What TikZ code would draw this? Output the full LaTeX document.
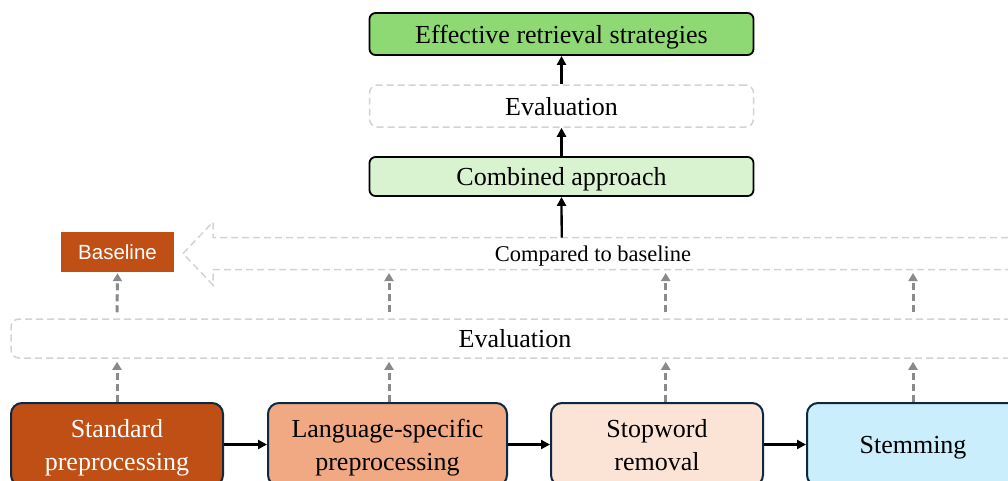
\documentclass[tikz,border=0pt]{standalone}
\usepackage{fontspec}
\setmainfont{Liberation Serif}
\newfontfamily\basefont{Liberation Sans}
\usetikzlibrary{arrows.meta}
\definecolor{navy}{HTML}{0E2841}
\definecolor{effgreen}{HTML}{8ED973}
\definecolor{combgreen}{HTML}{D9F2D0}
\definecolor{rust}{HTML}{C04F15}
\definecolor{salmon}{HTML}{F1A983}
\definecolor{peach}{HTML}{FBE3D6}
\definecolor{skyb}{HTML}{CAEEFB}
\definecolor{lgray}{HTML}{D3D3D3}
\definecolor{mgray}{HTML}{8A8A8A}
\tikzset{
  topbox/.style={draw=black, line width=1.8pt, rounded corners=6pt, minimum width=384pt, inner sep=0pt, text depth=0pt, font=\fontsize{26}{30}\selectfont},
  evalbox/.style={draw=lgray, line width=1.5pt, dash pattern=on 7pt off 4pt, rounded corners=8pt, inner sep=0pt, text depth=0pt, font=\fontsize{26}{30}\selectfont},
  stepbox/.style={draw=navy, line width=2pt, rounded corners=11pt, minimum height=83pt, inner sep=0pt, text depth=0pt, align=center, font=\fontsize{26}{33}\selectfont},
  blackarrow/.style={draw=black, line width=2.3pt, -{Triangle[length=9pt,width=9pt]}},
  grayarrow/.style={draw=mgray, line width=3pt, dash pattern=on 7pt off 4pt, -{Triangle[length=8pt,width=9pt]}},
}
\begin{document}
\begin{tikzpicture}[x=1pt,y=-1pt]
\useasboundingbox (0,0) rectangle (1008,480);
\clip (0,0) rectangle (1008,480);
% top column
\node[topbox, fill=effgreen, minimum height=42pt] (eff) at (561.5,34) {Effective retrieval strategies};
\node[evalbox, minimum width=384pt, minimum height=42pt] (evalT) at (561.5,106) {Evaluation};
\node[topbox, fill=combgreen, minimum height=39pt] (comb) at (561.5,176.5) {Combined approach};
% big left arrow
\draw[draw=lgray, line width=1.5pt, dash pattern=on 7pt off 4pt, line join=miter]
  (1030,237.5) -- (213,237.5) -- (213,222) -- (183,253.5) -- (213,285) -- (213,269.5) -- (1030,269.5);
\coordinate (cmpTop) at (561.7,237.5);
\coordinate (cmpBot) at (561.7,269.5);
\node[font=\fontsize{22.5}{26}\selectfont, inner sep=0pt, text depth=0pt] (cmp) at (593,254) {Compared to baseline};
% baseline
\node[fill=rust, text=white, minimum width=113pt, minimum height=40pt, inner sep=0pt, font=\basefont\fontsize{20.5}{24}\selectfont] (base) at (117.5,252) {Baseline};
% long evaluation
\node[evalbox, minimum width=1008pt, minimum height=39pt] (evalL) at (515,338.5) {Evaluation};
% bottom steps
\node[stepbox, fill=rust, text=white, minimum width=212pt] (b1) at (117,444.5) {Standard\\preprocessing};
\node[stepbox, fill=salmon, minimum width=239pt] (b2) at (387.5,444.5) {Language-specific\\preprocessing};
\node[stepbox, fill=peach, minimum width=212pt] (b3) at (657,444.5) {Stopword\\removal};
\node[stepbox, fill=skyb, minimum width=212pt] (b4) at (913,444.5) {Stemming};
% black arrows
\draw[blackarrow] (b1.east) -- (b2.west);
\draw[blackarrow] (b2.east) -- (b3.west);
\draw[blackarrow] (b3.east) -- (b4.west);
\draw[blackarrow] (cmpTop) -- (comb.south);
\draw[blackarrow] (comb.north) -- (evalT.south);
\draw[blackarrow] (evalT.north) -- (eff.south);
% gray dashed arrows, lower
\draw[grayarrow, shorten >=3pt] (b1.north) -- (b1.north |- evalL.south);
\draw[grayarrow, shorten >=3pt] ([xshift=1.5pt]b2.north) -- ([xshift=1.5pt]b2.north |- evalL.south);
\draw[grayarrow, shorten >=3pt] ([xshift=8.7pt]b3.north) -- ([xshift=8.7pt]b3.north |- evalL.south);
\draw[grayarrow, shorten >=3pt] (b4.north) -- (b4.north |- evalL.south);
% gray dashed arrows, upper
\draw[grayarrow, shorten <=6pt, shorten >=1pt] (b1.north |- evalL.north) -- (base.south);
\draw[grayarrow, shorten <=6pt, shorten >=3.5pt] ([xshift=1.5pt]b2.north |- evalL.north) -- ([xshift=1.5pt]b2.north |- cmpBot);
\draw[grayarrow, shorten <=6pt, shorten >=3.5pt] ([xshift=8.7pt]b3.north |- evalL.north) -- ([xshift=8.7pt]b3.north |- cmpBot);
\draw[grayarrow, shorten <=6pt, shorten >=3.5pt] (b4.north |- evalL.north) -- (b4.north |- cmpBot);
\end{tikzpicture}
\end{document}
